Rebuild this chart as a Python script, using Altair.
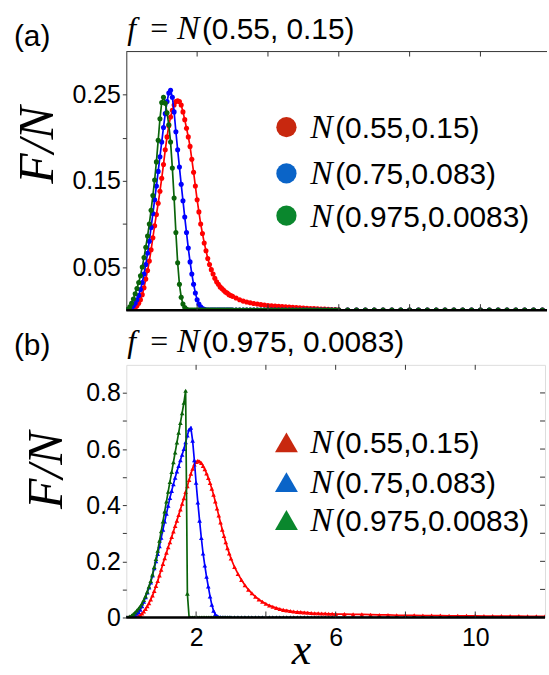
import altair as alt
import pandas as pd

# ---------------- data ----------------
X = [0.00, 0.05, 0.10, 0.15, 0.20, 0.25, 0.30, 0.35, 0.40, 0.45,
     0.50, 0.55, 0.60, 0.65, 0.70, 0.75, 0.80, 0.85, 0.90, 0.95,
     1.00, 1.05, 1.10, 1.15, 1.20, 1.25, 1.30, 1.35, 1.40, 1.45,
     1.50, 1.55, 1.60, 1.65, 1.70, 1.75, 1.80, 1.85, 1.90, 1.95,
     2.00, 2.05, 2.10, 2.15, 2.20, 2.25, 2.30, 2.35, 2.40, 2.45,
     2.50, 2.55, 2.60, 2.65, 2.70, 2.75, 2.80, 2.85, 2.90, 2.95, 3.00,
     3.1, 3.2, 3.3, 3.4, 3.5, 3.6, 3.7, 3.8, 3.9, 4.0,
     4.1, 4.2, 4.3, 4.4, 4.5, 4.6, 4.7, 4.8, 4.9, 5.0,
     5.1, 5.2, 5.3, 5.4, 5.5, 5.6, 5.7, 5.8, 5.9, 6.0,
     6.25, 6.5, 6.75, 7.0, 7.25, 7.5, 7.75, 8.0, 8.25, 8.5, 8.75, 9.0,
     9.25, 9.5, 9.75, 10.0, 10.25, 10.5, 10.75, 11.0, 11.25, 11.5, 11.75, 12.0]

# panel (a): f = N(0.55, 0.15)
red_a = [0, 0, 0.0002, 0.001, 0.002, 0.003, 0.005, 0.008, 0.012, 0.018,
         0.026, 0.036, 0.046, 0.057, 0.070, 0.084, 0.098, 0.111, 0.124, 0.138,
         0.153, 0.169, 0.186, 0.201, 0.214, 0.224, 0.232, 0.238, 0.242, 0.243,
         0.242, 0.238, 0.230, 0.221, 0.211, 0.201, 0.190, 0.175, 0.160, 0.144,
         0.128, 0.114, 0.100, 0.089, 0.078, 0.069, 0.060, 0.053, 0.047, 0.042,
         0.037, 0.033, 0.030, 0.027, 0.025, 0.023, 0.021, 0.020, 0.018, 0.017, 0.016,
         0.014, 0.012, 0.0105, 0.0095, 0.0085, 0.0078, 0.0071, 0.0065, 0.006, 0.0055,
         0.0051, 0.0048, 0.0045, 0.0042, 0.0039, 0.0036, 0.0033, 0.003, 0.0027, 0.0025,
         0.0022, 0.002, 0.0018, 0.0016, 0.0014, 0.0012, 0.001, 0.0008, 0.0006, 0.0004] + [0.0] * 24
blue_a = [0, 0, 0.001, 0.003, 0.005, 0.008, 0.012, 0.017, 0.024, 0.032,
          0.042, 0.053, 0.066, 0.080, 0.096, 0.112, 0.128, 0.144, 0.161, 0.178,
          0.195, 0.212, 0.228, 0.242, 0.252, 0.255, 0.247, 0.230, 0.207, 0.186,
          0.166, 0.146, 0.127, 0.108, 0.090, 0.072, 0.056, 0.042, 0.030, 0.020,
          0.012, 0.007, 0.004, 0.002, 0.001] + [0.0] * 70
green_a = [0, 0.001, 0.004, 0.008, 0.013, 0.019, 0.025, 0.032, 0.040, 0.050,
           0.061, 0.073, 0.086, 0.100, 0.116, 0.133, 0.151, 0.172, 0.197, 0.222,
           0.241, 0.247, 0.240, 0.229, 0.215, 0.195, 0.165, 0.130, 0.090, 0.055,
           0.030, 0.015, 0.007, 0.003, 0.001] + [0.0] * 80

# panel (b): f = N(0.975, 0.0083)
red_b = [0, 0, 0.0003, 0.001, 0.001, 0.002, 0.003, 0.005, 0.009, 0.014,
         0.021, 0.030, 0.040, 0.051, 0.064, 0.078, 0.094, 0.112, 0.130, 0.150,
         0.170, 0.191, 0.211, 0.231, 0.250, 0.268, 0.287, 0.306, 0.326, 0.345,
         0.365, 0.385, 0.405, 0.425, 0.447, 0.468, 0.490, 0.512, 0.530, 0.545,
         0.554, 0.558, 0.556, 0.550, 0.540, 0.528, 0.513, 0.497, 0.479, 0.459,
         0.437, 0.413, 0.388, 0.363, 0.338, 0.313, 0.290, 0.268, 0.247, 0.228, 0.210,
         0.180, 0.155, 0.134, 0.115, 0.099, 0.086, 0.074, 0.064, 0.056, 0.049,
         0.043, 0.038, 0.034, 0.030, 0.027, 0.025, 0.023, 0.021, 0.020, 0.019,
         0.018, 0.017, 0.016, 0.015, 0.015, 0.014, 0.014, 0.013, 0.013, 0.012,
         0.012, 0.011, 0.011, 0.010, 0.009, 0.009, 0.008, 0.008, 0.008, 0.007,
         0.007, 0.007, 0.006, 0.006, 0.006, 0.006, 0.005, 0.005, 0.005, 0.005,
         0.005, 0.004, 0.004, 0.004]
blue_b = [0, 0, 0.001, 0.003, 0.005, 0.009, 0.014, 0.020, 0.028, 0.040,
          0.056, 0.072, 0.089, 0.107, 0.125, 0.150, 0.175, 0.200, 0.226, 0.254,
          0.284, 0.313, 0.342, 0.370, 0.398, 0.426, 0.451, 0.475, 0.498, 0.520,
          0.540, 0.560, 0.580, 0.600, 0.624, 0.648, 0.670, 0.676, 0.630, 0.560,
          0.480, 0.410, 0.345, 0.283, 0.228, 0.185, 0.145, 0.110, 0.075, 0.045,
          0.024, 0.011, 0.005, 0.002, 0.001] + [0.0] * 60
green_b = [0, 0.001, 0.003, 0.007, 0.012, 0.018, 0.025, 0.032, 0.040, 0.050,
           0.062, 0.076, 0.092, 0.110, 0.130, 0.153, 0.180, 0.208, 0.238, 0.273,
           0.307, 0.342, 0.378, 0.413, 0.448, 0.483, 0.518, 0.553, 0.588, 0.623,
           0.658, 0.693, 0.728, 0.765, 0.808, 0.085, 0.0] + [0.0] * 78

SERIES = ["(0.55,0.15)", "(0.75,0.083)", "(0.975,0.0083)"]
TITLE_A = "(0.55, 0.15)"
TITLE_B = "(0.975, 0.0083)"
LINE_COLORS = ["#FF0000", "#0000FF", "#0A640A"]
LEGEND_COLORS = ["#C8280F", "#0A64C8", "#0A872D"]

Y_TICKS_A = [0.05, 0.10, 0.15, 0.20, 0.25]
Y_TICKS_B = [0.0, 0.1, 0.2, 0.3, 0.4, 0.5, 0.6, 0.7, 0.8]
X_TICKS = [2, 4, 6, 8, 10]
X_LABELS_B = [2, 6, 10]

SANS = "Liberation Sans"
SERIF = "Liberation Serif"
FRAME = "#333333"


def text_layer(s, x, y, size, font=SANS, italic=False, align="left",
               baseline="alphabetic", angle=0):
    kw = dict(font=font, fontSize=size, align=align, baseline=baseline,
              color="black")
    if italic:
        kw["fontStyle"] = "italic"
    if angle:
        kw["angle"] = angle
    return alt.Chart(pd.DataFrame({"t": [s]})).mark_text(**kw).encode(
        text="t:N", x=alt.value(x), y=alt.value(y))


def panel(ys, W, H, xdom, ydom, yticks, ylabel_expr, shape, psize,
          title, tag, show_x, legend_rows, legend_size, fn_pos, tag_base,
          right_frame):
    if show_x:
        x_axis = alt.Axis(values=X_LABELS_B, tickSize=0, domain=False,
                          labelPadding=8, labelFont=SANS, labelFontSize=25,
                          labelColor="black", grid=False, title=None,
                          format="d")
    else:
        x_axis = None
    x_enc = alt.X("x:Q", scale=alt.Scale(domain=xdom, nice=False, zero=False),
                  axis=x_axis)
    y_enc = alt.Y("y:Q", scale=alt.Scale(domain=ydom, nice=False),
                  axis=alt.Axis(values=yticks, labelExpr=ylabel_expr,
                                tickSize=4, tickColor=FRAME, labelPadding=2,
                                labelFont=SANS, labelFontSize=25,
                                labelColor="black", grid=False, title=None,
                                domain=not right_frame, domainColor=FRAME))
    layers = []
    for yv, col in zip(ys, LINE_COLORS):
        df = pd.DataFrame({"x": X, "y": yv})
        base = alt.Chart(df)
        layers.append(base.mark_line(color=col, strokeWidth=1.7, clip=True)
                      .encode(x=x_enc, y=y_enc))
        layers.append(base.mark_point(color=col, filled=True, opacity=1,
                                      size=psize, shape=shape, clip=True)
                      .encode(x=x_enc, y=y_enc))
    # zero axis line
    layers.append(alt.Chart(pd.DataFrame({"y": [0.0]}))
                  .mark_rule(color="black", strokeWidth=2.5)
                  .encode(y=y_enc, x=alt.value(0), x2=alt.value(W)))
    # inward x ticks (top and bottom edges)
    tdf = pd.DataFrame({"x": X_TICKS})
    layers.append(alt.Chart(tdf).mark_rule(color=FRAME, strokeWidth=1)
                  .encode(x=x_enc, y=alt.value(0), y2=alt.value(5)))
    layers.append(alt.Chart(tdf).mark_rule(color=FRAME, strokeWidth=1)
                  .encode(x=x_enc, y=alt.value(H - 6), y2=alt.value(H)))
    if right_frame:
        rdf = pd.DataFrame({"y": [v for v in yticks if v > 0]})
        layers.append(alt.Chart(rdf).mark_rule(color=FRAME, strokeWidth=1)
                      .encode(y=y_enc, x=alt.value(W - 5), x2=alt.value(W)))
    else:
        layers.append(alt.Chart(pd.DataFrame({"y": [ydom[1]]}))
                      .mark_rule(color=FRAME, strokeWidth=1)
                      .encode(y=y_enc, x=alt.value(0), x2=alt.value(W)))
    # legend
    for (ry, col, lab) in zip(legend_rows, LEGEND_COLORS, SERIES):
        layers.append(alt.Chart(pd.DataFrame({"t": [lab]}))
                      .mark_point(shape=shape, filled=True, opacity=1,
                                  color=col, size=legend_size)
                      .encode(x=alt.value(161), y=alt.value(ry)))
        layers.append(text_layer("N", 185, ry + 11, 34, font=SERIF,
                                 italic=True))
        layers.append(text_layer(lab, 210, ry + 11, 30))
    # panel header
    layers.append(text_layer(tag, -113, tag_base, 30))
    layers.append(text_layer("f", 1, -13, 32, font=SERIF, italic=True))
    layers.append(text_layer("=", 24, -13, 32, font=SERIF))
    layers.append(text_layer("N", 51, -13, 34, font=SERIF, italic=True))
    layers.append(text_layer(title, 76, -13, 30))
    # y title
    layers.append(text_layer("F/N", fn_pos[0], fn_pos[1], 50, font=SERIF,
                             italic=True, align="center", baseline="middle",
                             angle=270))
    if show_x:
        layers.append(text_layer("x", 176, 301, 44, font=SERIF, italic=True,
                                 align="center"))
    ch = alt.layer(*layers).properties(width=W, height=H)
    if not right_frame:
        ch = ch.properties(view=alt.ViewBackground(stroke=None))
    return ch


top = panel([red_a, blue_a, green_a], 423, 260, [0, 11.88], [0, 0.3],
            Y_TICKS_A,
            "(round(datum.value*100) % 10 == 5) ? format(datum.value, '.2f') : ''",
            "circle", 26, TITLE_A, "(a)", False, [76, 122.5, 165], 415,
            (-89, 94), -6, False)
bottom = panel([red_b, blue_b, green_b], 421, 254, [0, 12], [0, 0.9],
               Y_TICKS_B,
               "(round(datum.value*10) % 2 == 0) ? (datum.value == 0 ? '0' : format(datum.value, '.1f')) : ''",
               "triangle-up", 22, TITLE_B, "(b)", True, [78, 118, 156], 529,
               (-80, 106), -10, True)

chart = alt.vconcat(top, bottom, spacing=55, bounds="flush").properties(
    padding={"left": 13, "top": 10, "right": 0, "bottom": 0}
).configure_view(stroke=FRAME, strokeWidth=1).configure(background="white")

chart.save("out.html", embed_options={"renderer": "svg", "actions": False})
